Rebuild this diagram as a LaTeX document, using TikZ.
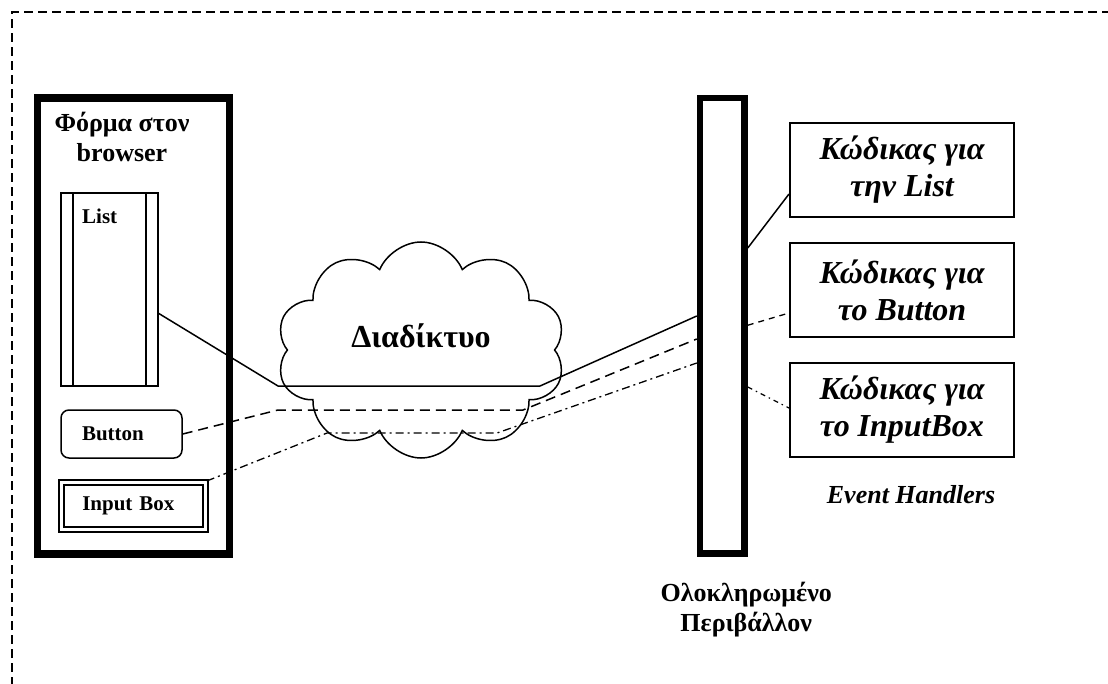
\documentclass[tikz,border=0pt]{standalone}
\usepackage{fontspec}
\setmainfont{Liberation Serif}
\usetikzlibrary{positioning,shapes.symbols}

\begin{document}
\begin{tikzpicture}[x=1pt,y=-1pt,
  heavybox/.style={draw,inner sep=0pt},
  codebox/.style={draw,line width=2pt,minimum width=224pt,minimum height=94pt,align=center,
    font=\fontsize{32}{37}\selectfont\bfseries\itshape},
  smalltext/.style={font=\fontsize{21}{24}\selectfont\bfseries},
  bigtext/.style={font=\fontsize{26}{30}\selectfont\bfseries,align=center,inner sep=0pt},
  link/.style={line width=1.5pt},
  linkdash/.style={line width=1.5pt,dash pattern=on 10pt off 6pt},
  linkdot/.style={line width=1.3pt,dash pattern=on 8pt off 4pt on 2pt off 4pt}]
\useasboundingbox (0,0) rectangle (1108,684);
%dashed frame round everything
\draw[line width=1.3pt,dash pattern=on 9pt off 5pt] (12,700) -- (12,12) -- (1120,12);
%the form in the browser
\node[heavybox,line width=7.5pt,minimum width=192pt,minimum height=456pt] (form) at (133.5,326) {};
\node[bigtext,anchor=north] (formtitle) at (122,112) {Φόρμα στον\\browser};
\node[draw,line width=1.5pt,outer sep=0pt,minimum width=97pt,minimum height=193pt] (list) at (109.5,289.5) {};
\draw[line width=1.5pt] ([xshift=12pt]list.north west) -- ([xshift=12pt]list.south west);
\draw[line width=1.5pt] ([xshift=-12pt]list.north east) -- ([xshift=-12pt]list.south east);
\node[smalltext,anchor=north west,inner sep=0pt] (listname) at (82,209) {List};
\node[draw,line width=1.5pt,rounded corners=8pt,minimum width=121pt,minimum height=48pt,
  smalltext,text width=79pt,inner xsep=21pt,align=left] (button) at (121.5,434) {Button};
\node[draw,double,double distance=3pt,line width=2pt,minimum width=144pt,minimum height=47pt,
  smalltext,text width=103pt,inner xsep=20.5pt,align=left] (inputbox) at (133.75,505.5) {Input Box};
%the internet
\node[cloud,draw,line width=1.5pt,cloud puffs=10,cloud puff arc=135,cloud ignores aspect,
  minimum width=289pt,minimum height=216pt,font=\fontsize{32}{37}\selectfont\bfseries,
  text height=23pt,text depth=27pt] (net) at (421,350) {Διαδίκτυο};
%the integrated environment
\node[heavybox,line width=6.5pt,minimum width=44.5pt,minimum height=455.5pt] (ide) at (722.25,325.75) {};
\node[bigtext,below=25pt of ide,xshift=24pt] (idename) {Ολοκληρωμένο\\Περιβάλλον};
%the event handlers
\node[codebox] (codelist) at (902,170) {Κώδικας για\\την List};
\node[codebox,below=24pt of codelist] (codebutton) {Κώδικας για\\το Button};
\node[codebox,below=24pt of codebutton] (codeinput) {Κώδικας για\\το InputBox};
\node[bigtext,font=\fontsize{26}{30}\selectfont\bfseries\itshape,below=27pt of codeinput,xshift=9pt] (handlers) {Event Handlers};
%the list connection
\coordinate (lA) at (278,386);
\coordinate (lB) at (540,386);
\draw[link] ([yshift=-23.5pt]list.east) -- (lA) -- (lB) -- ([yshift=9.75pt]ide.west);
\draw[link] ([yshift=77.75pt]ide.east) -- ([yshift=-24pt]codelist.west);
%the button connection
\coordinate (bA) at (278,410);
\coordinate (bB) at (523,410);
\draw[linkdash] (button.east) -- (bA) -- (bB) -- ([yshift=-13.25pt]ide.west);
\draw[line width=1.3pt,dash pattern=on 6pt off 5pt] ([yshift=0.5pt]ide.east) -- ([yshift=-23pt]codebutton.west);
%the input box connection
\coordinate (iA) at (327,433);
\coordinate (iB) at (497,433);
\draw[linkdot] (inputbox.north east) -- (iA) -- (iB) -- ([yshift=-37.25pt]ide.west);
\draw[line width=1.2pt,dash pattern=on 5pt off 4pt on 1.5pt off 4pt] ([yshift=-61.25pt]ide.east) -- ([yshift=2pt]codeinput.west);
\end{tikzpicture}
\end{document}
